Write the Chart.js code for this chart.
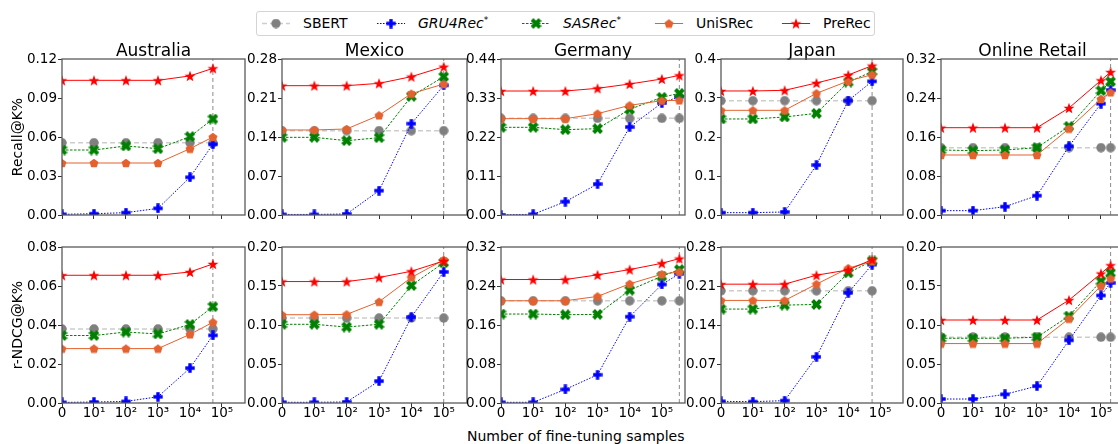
<!DOCTYPE html>
<html>
<head>
<meta charset="utf-8">
<script src="https://cdn.jsdelivr.net/npm/chart.js@4"></script>
<style>
html,body{margin:0;padding:0;overflow:hidden;background:#fff;}
#wrap{position:relative;width:1118px;height:444px;overflow:hidden;font-family:'DejaVu Sans',sans-serif;color:#000;}
canvas.panel{position:absolute;}
#legend{position:absolute;left:256px;top:11px;width:617px;height:23px;border:1px solid #d4d4d4;border-radius:3px;background:#fff;}
.litem{position:absolute;top:0;height:23px;}
.litem canvas{position:absolute;top:1px;}
.litem span{position:absolute;top:2px;font-size:14px;line-height:19px;white-space:nowrap;}
.litem sup{font-size:9px;vertical-align:top;position:relative;top:-3px;font-style:normal;}
#xlabel{position:absolute;left:467px;top:428px;font-size:14px;line-height:17px;white-space:nowrap;}
</style>
</head>
<body>
<div id="wrap">
  <div id="legend"></div>
  <div id="xlabel">Number of fine-tuning samples</div>
</div>
<script>
// ---------------- DATA ----------------
const regionNames = ['Australia', 'Mexico', 'Germany', 'Japan', 'Online Retail'];
const methodNames = ['SBERT', 'GRU4Rec*', 'SASRec*', 'UniSRec', 'PreRec'];
const xTickValues = [0, 1, 2, 3, 4, 5];
const xTickLabels = ['0', '10¹', '10²', '10³', '10⁴', '10⁵'];
const metricTitles = ['Recall@K%', 'r-NDCG@K%'];

// number of fine-tuning samples per region (0 = zero-shot)
const samplesAustralia = [0, 10, 100, 1000, 10000, 52000];
const samplesMexico = [0, 10, 100, 1000, 10000, 100000];
const samplesGermany = [0, 10, 100, 1000, 10000, 100000, 350000];
const samplesJapan = [0, 10, 100, 1000, 10000, 56000];
const samplesOnlineRetail = [0, 10, 100, 1000, 10000, 100000, 200000];

// y-axis maxima and decimals
const recallAxisMax = [0.12, 0.28, 0.44, 0.4, 0.32];
const recallAxisDecimals = [2, 2, 2, 1, 2];
const ndcgAxisMax = [0.08, 0.20, 0.32, 0.28, 0.20];
const ndcgAxisDecimals = [2, 2, 2, 2, 2];

// Recall@K% -- Australia
const recallAustraliaSBERT = [0.0556, 0.0556, 0.0556, 0.0556, 0.0556, 0.0556];
const recallAustraliaGRU4Rec = [0.0005, 0.001, 0.0018, 0.0051, 0.029, 0.0544];
const recallAustraliaSASRec = [0.050, 0.050, 0.0531, 0.051, 0.0603, 0.0738];
const recallAustraliaUniSRec = [0.040, 0.040, 0.040, 0.040, 0.051, 0.060];
const recallAustraliaPreRec = [0.1036, 0.1036, 0.1036, 0.1036, 0.107, 0.1128];
// Recall@K% -- Mexico
const recallMexicoSBERT = [0.1514, 0.1514, 0.1514, 0.1514, 0.1514, 0.1514];
const recallMexicoGRU4Rec = [0.001, 0.001, 0.0018, 0.0437, 0.1639, 0.2327];
const recallMexicoSASRec = [0.1394, 0.1394, 0.1334, 0.1388, 0.213, 0.2483];
const recallMexicoUniSRec = [0.1526, 0.1526, 0.1544, 0.1789, 0.2178, 0.2351];
const recallMexicoPreRec = [0.2321, 0.2321, 0.2321, 0.2363, 0.2483, 0.2662];
// Recall@K% -- Germany
const recallGermanySBERT = [0.2726, 0.2726, 0.2726, 0.2726, 0.2726, 0.2726, 0.2726];
const recallGermanyGRU4Rec = [0.0, 0.002, 0.0376, 0.0874, 0.2482, 0.3159, 0.3338];
const recallGermanySASRec = [0.2473, 0.2473, 0.2407, 0.2435, 0.298, 0.3319, 0.3432];
const recallGermanyUniSRec = [0.2717, 0.2717, 0.2717, 0.2858, 0.3093, 0.3225, 0.3234];
const recallGermanyPreRec = [0.3497, 0.3497, 0.3497, 0.3573, 0.3695, 0.3836, 0.3939];
// Recall@K% -- Japan
const recallJapanSBERT = [0.2932, 0.2932, 0.2932, 0.2932, 0.2932, 0.2932];
const recallJapanGRU4Rec = [0.006, 0.006, 0.0077, 0.1282, 0.2932, 0.3427];
const recallJapanSASRec = [0.2462, 0.2462, 0.2513, 0.2607, 0.341, 0.3675];
const recallJapanUniSRec = [0.2684, 0.2684, 0.2684, 0.312, 0.3436, 0.3598];
const recallJapanPreRec = [0.318, 0.318, 0.3197, 0.3385, 0.359, 0.3829];
// Recall@K% -- Online Retail
const recallOnlineRetailSBERT = [0.1381, 0.1381, 0.1381, 0.1381, 0.1381, 0.1381, 0.1381];
const recallOnlineRetailGRU4Rec = [0.0089, 0.0089, 0.0171, 0.0397, 0.1409, 0.2284, 0.2564];
const recallOnlineRetailSASRec = [0.1333, 0.132, 0.1333, 0.1381, 0.1819, 0.255, 0.2735];
const recallOnlineRetailUniSRec = [0.1231, 0.1231, 0.1231, 0.1231, 0.1771, 0.2379, 0.2516];
const recallOnlineRetailPreRec = [0.1791, 0.1791, 0.1791, 0.1791, 0.2195, 0.2762, 0.2933];

// r-NDCG@K% -- Australia
const ndcgAustraliaSBERT = [0.038, 0.038, 0.038, 0.038, 0.038, 0.038];
const ndcgAustraliaGRU4Rec = [0.0003, 0.0005, 0.0008, 0.0032, 0.0179, 0.0347];
const ndcgAustraliaSASRec = [0.0346, 0.0346, 0.0364, 0.0354, 0.0403, 0.0494];
const ndcgAustraliaUniSRec = [0.0279, 0.0279, 0.0279, 0.0279, 0.0352, 0.0414];
const ndcgAustraliaPreRec = [0.0655, 0.0655, 0.0655, 0.0655, 0.0672, 0.0713];
// r-NDCG@K% -- Mexico
const ndcgMexicoSBERT = [0.1089, 0.1089, 0.1089, 0.1089, 0.1089, 0.1089];
const ndcgMexicoGRU4Rec = [0.0009, 0.0009, 0.0013, 0.0281, 0.1102, 0.1681];
const ndcgMexicoSASRec = [0.1009, 0.1009, 0.0974, 0.1009, 0.1506, 0.180];
const ndcgMexicoUniSRec = [0.1132, 0.1132, 0.1136, 0.1298, 0.1609, 0.1834];
const ndcgMexicoPreRec = [0.1557, 0.1557, 0.1557, 0.1609, 0.1689, 0.1821];
// r-NDCG@K% -- Germany
const ndcgGermanySBERT = [0.2097, 0.2097, 0.2097, 0.2097, 0.2097, 0.2097, 0.2097];
const ndcgGermanyGRU4Rec = [0.0014, 0.0014, 0.0279, 0.0579, 0.177, 0.2431, 0.2649];
const ndcgGermanySASRec = [0.1825, 0.1825, 0.1811, 0.1818, 0.2315, 0.2601, 0.2737];
const ndcgGermanyUniSRec = [0.2097, 0.2097, 0.2097, 0.2186, 0.2444, 0.2642, 0.2689];
const ndcgGermanyPreRec = [0.2533, 0.2533, 0.2533, 0.2628, 0.2737, 0.2866, 0.2962];
// r-NDCG@K% -- Japan
const ndcgJapanSBERT = [0.2014, 0.2014, 0.2014, 0.2014, 0.2014, 0.2014];
const ndcgJapanGRU4Rec = [0.003, 0.0024, 0.0042, 0.0828, 0.1978, 0.2484];
const ndcgJapanSASRec = [0.1686, 0.1686, 0.1757, 0.1769, 0.2335, 0.255];
const ndcgJapanUniSRec = [0.1841, 0.1841, 0.1841, 0.2133, 0.2419, 0.2544];
const ndcgJapanPreRec = [0.2133, 0.2133, 0.2133, 0.2294, 0.2389, 0.2574];
// r-NDCG@K% -- Online Retail
const ndcgOnlineRetailSBERT = [0.0843, 0.0843, 0.0843, 0.0843, 0.0843, 0.0843, 0.0843];
const ndcgOnlineRetailGRU4Rec = [0.0051, 0.0051, 0.0111, 0.0217, 0.0804, 0.1379, 0.154];
const ndcgOnlineRetailSASRec = [0.083, 0.083, 0.083, 0.0843, 0.1115, 0.1562, 0.1668];
const ndcgOnlineRetailUniSRec = [0.0762, 0.0762, 0.0762, 0.0762, 0.1081, 0.1502, 0.1596];
const ndcgOnlineRetailPreRec = [0.1064, 0.1064, 0.1064, 0.1064, 0.1319, 0.166, 0.1766];

// ---------------- ASSEMBLY ----------------
const samplesByRegion = [samplesAustralia, samplesMexico, samplesGermany, samplesJapan, samplesOnlineRetail];
const recallByRegion = [
  [recallAustraliaSBERT, recallAustraliaGRU4Rec, recallAustraliaSASRec, recallAustraliaUniSRec, recallAustraliaPreRec],
  [recallMexicoSBERT, recallMexicoGRU4Rec, recallMexicoSASRec, recallMexicoUniSRec, recallMexicoPreRec],
  [recallGermanySBERT, recallGermanyGRU4Rec, recallGermanySASRec, recallGermanyUniSRec, recallGermanyPreRec],
  [recallJapanSBERT, recallJapanGRU4Rec, recallJapanSASRec, recallJapanUniSRec, recallJapanPreRec],
  [recallOnlineRetailSBERT, recallOnlineRetailGRU4Rec, recallOnlineRetailSASRec, recallOnlineRetailUniSRec, recallOnlineRetailPreRec]
];
const ndcgByRegion = [
  [ndcgAustraliaSBERT, ndcgAustraliaGRU4Rec, ndcgAustraliaSASRec, ndcgAustraliaUniSRec, ndcgAustraliaPreRec],
  [ndcgMexicoSBERT, ndcgMexicoGRU4Rec, ndcgMexicoSASRec, ndcgMexicoUniSRec, ndcgMexicoPreRec],
  [ndcgGermanySBERT, ndcgGermanyGRU4Rec, ndcgGermanySASRec, ndcgGermanyUniSRec, ndcgGermanyPreRec],
  [ndcgJapanSBERT, ndcgJapanGRU4Rec, ndcgJapanSASRec, ndcgJapanUniSRec, ndcgJapanPreRec],
  [ndcgOnlineRetailSBERT, ndcgOnlineRetailGRU4Rec, ndcgOnlineRetailSASRec, ndcgOnlineRetailUniSRec, ndcgOnlineRetailPreRec]
];

// ---------------- STYLE ----------------
const FONT = "'DejaVu Sans', sans-serif";
const methodStyles = [
  {line: '#cdcdcd', fill: '#808080', dash: [5, 3], width: 1.5, shape: 'circle', size: 10},
  {line: '#0000ff', fill: '#0000ff', dash: [1.5, 1.5], width: 1, shape: 'plus', size: 10},
  {line: '#008000', fill: '#008000', dash: [2.5, 1.5], width: 1, shape: 'x', size: 11},
  {line: '#e4622f', fill: '#e4622f', dash: [], width: 1, shape: 'pentagon', size: 10},
  {line: '#ff0000', fill: '#ff0000', dash: [], width: 1, shape: 'star', size: 12}
];

function markerImage(shape, color, size) {
  const c = document.createElement('canvas');
  c.width = size; c.height = size;
  const g = c.getContext('2d');
  const r = size / 2;
  g.translate(r, r);
  g.fillStyle = color;
  g.beginPath();
  if (shape === 'circle') {
    g.arc(0, 0, r - 0.3, 0, Math.PI * 2);
  } else if (shape === 'plus' || shape === 'x') {
    let a = r - 0.3;
    if (shape === 'x') { g.rotate(Math.PI / 4); a = r * 1.02; }
    const w = a * 0.36;
    const pts = [[-w,-a],[w,-a],[w,-w],[a,-w],[a,w],[w,w],[w,a],[-w,a],[-w,w],[-a,w],[-a,-w],[-w,-w]];
    pts.forEach((p, i) => i ? g.lineTo(p[0], p[1]) : g.moveTo(p[0], p[1]));
    g.closePath();
  } else if (shape === 'pentagon') {
    const R = r - 0.3;
    for (let k = 0; k < 5; k++) {
      const ang = -Math.PI / 2 + k * 2 * Math.PI / 5;
      const px = R * Math.cos(ang), py = R * Math.sin(ang) + R * 0.1;
      k ? g.lineTo(px, py) : g.moveTo(px, py);
    }
    g.closePath();
  } else if (shape === 'star') {
    const R = r - 0.3, ri = R * 0.42;
    for (let k = 0; k < 10; k++) {
      const ang = -Math.PI / 2 + k * Math.PI / 5;
      const rr = k % 2 ? ri : R;
      const px = rr * Math.cos(ang), py = rr * Math.sin(ang) + R * 0.1;
      k ? g.lineTo(px, py) : g.moveTo(px, py);
    }
    g.closePath();
  }
  g.fill();
  return c;
}
const markerImages = methodStyles.map(s => markerImage(s.shape, s.fill, s.size));

// ---------------- LEGEND (HTML) ----------------
const legendMarkerX = [19, 134, 279, 412, 539]; // relative to legend box
const legendLabelsHTML = ['SBERT', '<i>GRU4Rec</i><sup>*</sup>', '<i>SASRec</i><sup>*</sup>', 'UniSRec', 'PreRec'];
const legendEl = document.getElementById('legend');
methodNames.forEach((name, i) => {
  const item = document.createElement('div');
  item.className = 'litem';
  item.style.left = (legendMarkerX[i] - 14) + 'px';
  const cv = document.createElement('canvas');
  cv.width = 28; cv.height = 20;
  const g = cv.getContext('2d');
  const st = methodStyles[i];
  g.strokeStyle = st.line; g.lineWidth = st.width; g.setLineDash(st.dash);
  g.beginPath(); g.moveTo(0, 10.5); g.lineTo(28, 10.5); g.stroke();
  const im = markerImages[i];
  g.drawImage(im, 14 - im.width / 2, 10.5 - im.height / 2);
  item.appendChild(cv);
  const sp = document.createElement('span');
  sp.style.left = '41px';
  sp.innerHTML = legendLabelsHTML[i];
  item.appendChild(sp);
  legendEl.appendChild(item);
});

// ---------------- PANELS ----------------
const plotLefts = [62, 282, 501, 721, 941];
const plotWidths = [183, 185, 184, 182, 183];
const plotTops = [59, 247];
const plotHeight = 156;
const X_MAX = 5.72;

const framePlugin = {
  id: 'frame',
  afterDatasetsDraw(chart) {
    const {ctx, chartArea: a} = chart;
    ctx.save();
    ctx.strokeStyle = '#5a5a5a';
    ctx.lineWidth = 1.3;
    ctx.strokeRect(a.left, a.top, a.right - a.left, a.bottom - a.top);
    ctx.restore();
  }
};

const wrap = document.getElementById('wrap');
for (let row = 0; row < 2; row++) {
  for (let col = 0; col < 5; col++) {
    const topSpace = row === 0 ? 30 : 12;
    const bottomSpace = row === 0 ? 12 : 30;
    const cv = document.createElement('canvas');
    cv.className = 'panel';
    const W = 62 + plotWidths[col] + 62;
    const H = topSpace + plotHeight + bottomSpace;
    cv.width = W; cv.height = H;
    cv.style.width = W + 'px'; cv.style.height = H + 'px';
    cv.style.left = (plotLefts[col] - 62) + 'px';
    cv.style.top = (plotTops[row] - topSpace) + 'px';
    wrap.appendChild(cv);

    const xs = samplesByRegion[col].map(n => n === 0 ? 0 : Math.log10(n));
    const series = row === 0 ? recallByRegion[col] : ndcgByRegion[col];
    const yMax = row === 0 ? recallAxisMax[col] : ndcgAxisMax[col];
    const dec = row === 0 ? recallAxisDecimals[col] : ndcgAxisDecimals[col];
    const lastX = xs[xs.length - 1];

    const datasets = series.map((vals, m) => ({
      label: methodNames[m],
      data: vals.map((v, i) => ({x: xs[i], y: v})),
      borderColor: methodStyles[m].line,
      backgroundColor: methodStyles[m].fill,
      borderWidth: methodStyles[m].width,
      borderDash: methodStyles[m].dash,
      pointStyle: markerImages[m],
      pointRadius: 5,
      tension: 0,
      clip: 0,
      order: 4 - m
    }));
    datasets.push({
      label: 'max',
      data: [{x: lastX, y: 0}, {x: lastX, y: yMax}],
      borderColor: '#8a8a8a',
      borderWidth: 1,
      borderDash: [4, 3],
      pointRadius: 0,
      clip: 0,
      order: 10
    });

    new Chart(cv, {
      type: 'line',
      data: {datasets},
      plugins: [framePlugin],
      options: {
        responsive: false,
        animation: false,
        devicePixelRatio: 1,
        layout: {padding: {left: 0, right: 62, top: row === 0 ? 0 : topSpace, bottom: 0}},
        plugins: {
          legend: {display: false},
          tooltip: {enabled: false},
          title: row === 0 ? {
            display: true, text: regionNames[col], fullSize: false, color: '#000',
            font: {family: FONT, size: 17, weight: 'normal', lineHeight: 0.85},
            padding: {top: 15.55, bottom: 0}
          } : {display: false}
        },
        scales: {
          x: {
            type: 'linear', min: 0, max: X_MAX,
            afterBuildTicks: s => { s.ticks = xTickValues.map(v => ({value: v})); },
            afterFit: s => { s.height = bottomSpace; },
            border: {display: false},
            grid: {display: true, drawOnChartArea: false, drawTicks: true, tickLength: 4, tickWidth: 1, tickColor: '#333'},
            ticks: {
              display: row === 1, autoSkip: false, maxRotation: 0, padding: -2, color: '#000',
              font: {family: FONT, size: 13.5},
              callback: (v, i) => xTickLabels[i]
            }
          },
          y: {
            min: 0, max: yMax,
            afterBuildTicks: s => { s.ticks = [0, 1, 2, 3, 4].map(k => ({value: yMax * k / 4})); },
            afterFit: s => { s.width = 62; },
            border: {display: false},
            grid: {display: true, drawOnChartArea: false, drawTicks: true, tickLength: 4, tickWidth: 1, tickColor: '#333'},
            ticks: {
              autoSkip: false, padding: 1, color: '#000',
              font: {family: FONT, size: 13.5},
              callback: v => Number(v).toFixed(dec)
            },
            title: col === 0 ? {
              display: true, text: metricTitles[row], color: '#000',
              font: {family: FONT, size: 14}, padding: {top: 9.6, bottom: 0}
            } : {display: false}
          }
        }
      }
    });
  }
}
</script>
</body>
</html>
